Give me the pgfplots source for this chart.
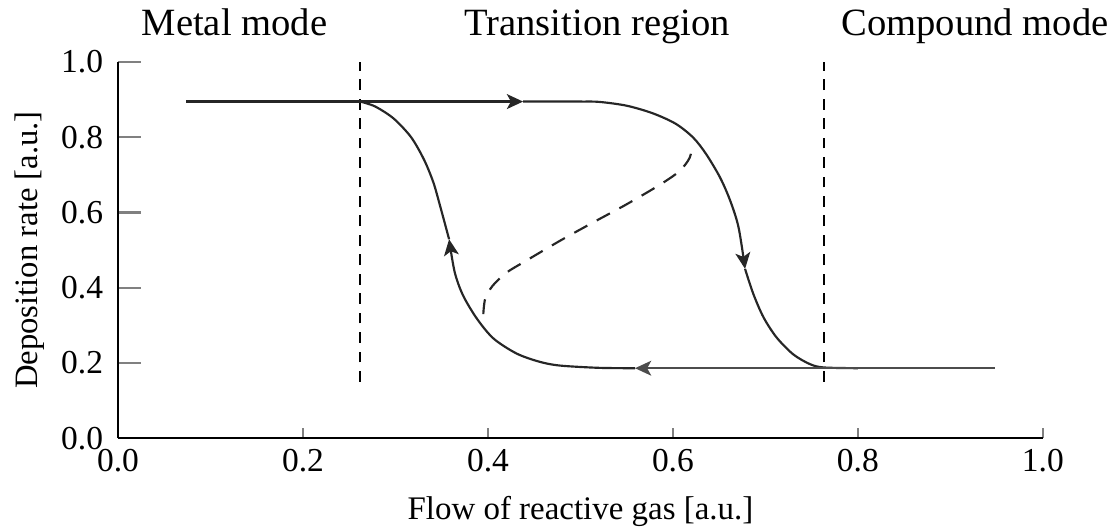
\documentclass[border=0pt]{standalone}
\usepackage{pgfplots}
\pgfplotsset{compat=1.18}
\usepackage{fontspec}
\setmainfont{Liberation Serif}
\usetikzlibrary{arrows.meta}
\begin{document}
\begin{tikzpicture}
\begin{axis}[
  name=ax,
  scale only axis,
  width=342.6pt, height=139.3pt,
  xmin=0, xmax=1, ymin=0, ymax=1,
  axis x line*=bottom, axis y line*=left,
  axis line style={-, line width=0.8pt},
  tick align=inside,
  major tick length=8.5pt,
  xtick={0,0.2,0.4,0.6,0.8,1.0},
  ytick={0,0.2,0.4,0.6,0.8,1.0},
  x tick style={line width=0.8pt, /pgfplots/major tick length=3.7pt},
  y tick style={line width=0.8pt},
  tick label style={font=\fontsize{12.4}{14}\selectfont, /pgf/number format/assume math mode=true},
  xticklabel style={anchor=base, yshift=-12.2pt, /pgf/number format/.cd, fixed, fixed zerofill, precision=1},
  yticklabel style={xshift=-2pt, /pgf/number format/.cd, fixed, fixed zerofill, precision=1},
  xlabel={Flow of reactive gas [a.u.]},
  ylabel={Deposition rate [a.u.]},
  every axis x label/.style={at={(axis description cs:0.5,-0.2154)}, anchor=base, inner sep=0pt, font=\fontsize{12.2}{14}\selectfont},
  every axis y label/.style={at={(axis description cs:-0.0951,0.5)}, anchor=center, rotate=90, inner sep=1pt, font=\fontsize{12.1}{14}\selectfont},
  clip=false,
]
% dashed region borders
\addplot[black, line width=0.75pt, dash pattern=on 4pt off 3.2pt] coordinates {(0.262,0.15) (0.262,1.0)};
\addplot[black, line width=0.75pt, dash pattern=on 4pt off 3.2pt] coordinates {(0.763,0.15) (0.763,1.0)};
% top line with arrow
\addplot[black!85, line width=0.8pt, -{Stealth[length=6pt,width=5.5pt,inset=1.5pt]}] coordinates {(0.074,0.895) (0.438,0.895)};
% top line into right descending branch
\addplot[black!85, line width=0.8pt, smooth, -{Stealth[length=6pt,width=5.5pt,inset=1.5pt]}] coordinates {
(0.438,0.895) (0.50,0.895) (0.521,0.894) (0.550,0.884) (0.578,0.864) (0.603,0.836) (0.622,0.799) (0.636,0.755) (0.651,0.693) (0.662,0.631) (0.671,0.560) (0.678,0.45)};
\addplot[black!85, line width=0.8pt, smooth] coordinates {
(0.678,0.45) (0.687,0.383) (0.698,0.321) (0.712,0.268) (0.730,0.223) (0.748,0.197) (0.763,0.188) (0.80,0.186)};
% bottom line with arrow
\addplot[black!70, line width=0.8pt, -{Stealth[length=6pt,width=5.5pt,inset=1.5pt]}] coordinates {(0.948,0.186) (0.559,0.186)};
% bottom line into left ascending branch
\addplot[black!85, line width=0.8pt, smooth, -{Stealth[length=6pt,width=5.5pt,inset=1.5pt]}] coordinates {
(0.559,0.186) (0.52,0.187) (0.478,0.193) (0.456,0.203) (0.431,0.225) (0.406,0.265) (0.388,0.318) (0.373,0.380) (0.364,0.442) (0.358,0.529)};
\addplot[black!85, line width=0.8pt, smooth] coordinates {
(0.358,0.529) (0.348,0.62) (0.341,0.68) (0.331,0.74) (0.317,0.80) (0.298,0.85) (0.278,0.882) (0.262,0.895)};
% unstable dashed branch
\addplot[black!85, line width=0.8pt, smooth, dash pattern=on 5.5pt off 4pt] coordinates {
(0.395,0.33) (0.397,0.37) (0.405,0.405) (0.420,0.44) (0.440,0.47) (0.478,0.525) (0.514,0.574) (0.55,0.622) (0.586,0.674) (0.607,0.71) (0.618,0.745) (0.621,0.78)};
% region titles
\node[font=\fontsize{14.3}{16}\selectfont, inner sep=0pt, anchor=base] at (axis cs:0.126,1.07) {Metal mode};
\node[font=\fontsize{14.3}{16}\selectfont, inner sep=0pt, anchor=base] at (axis cs:0.518,1.07) {Transition region};
\node[font=\fontsize{14.3}{16}\selectfont, inner sep=0pt, anchor=base] at (axis cs:0.9265,1.07) {Compound mode};
\end{axis}
\pgfresetboundingbox
\path ([xshift=-43.7pt,yshift=-32.6pt]ax.south west) rectangle ([xshift=25.6pt,yshift=23pt]ax.north east);
\end{tikzpicture}
\end{document}
